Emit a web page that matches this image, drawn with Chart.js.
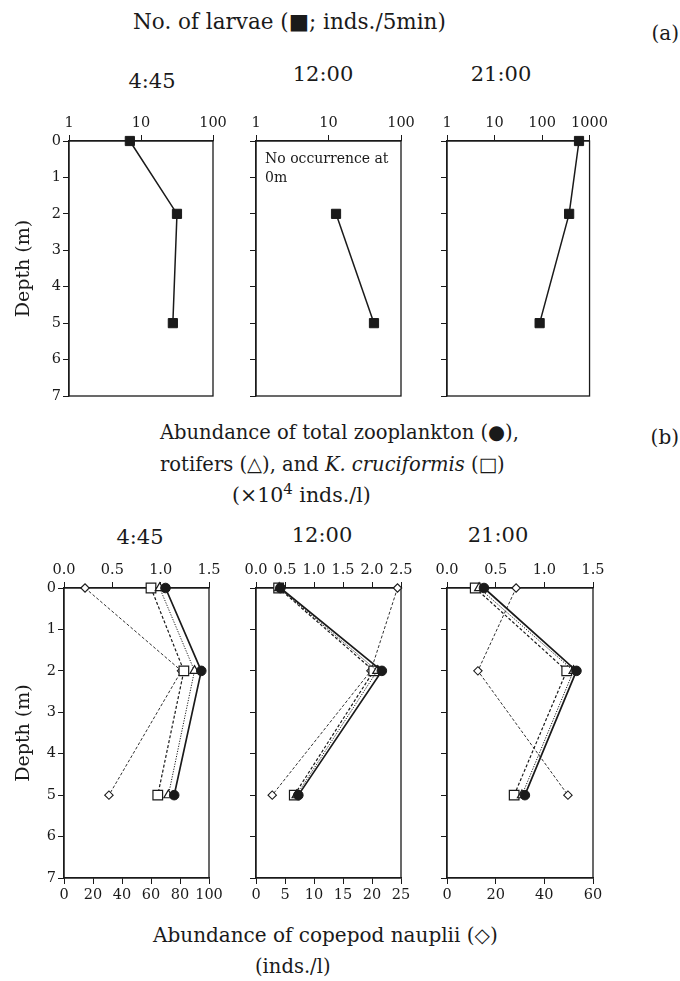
<!DOCTYPE html>
<html><head><meta charset="utf-8">
<script src="https://cdn.jsdelivr.net/npm/chart.js@4.4.1/dist/chart.umd.min.js"></script>
<style>
html,body{margin:0;padding:0;background:#fff;}
body{width:680px;height:981px;position:relative;overflow:hidden;font-family:'DejaVu Serif',serif;color:#1a1a1a;}
.t{position:absolute;white-space:nowrap;line-height:1;transform:translateY(-50%);}
.c{transform:translate(-50%,-50%);}
.pc{position:absolute;}
</style></head><body>
<script>
// ---------- data ----------
const depths = [0, 2, 5];
const depthTicks = [0, 1, 2, 3, 4, 5, 6, 7];
const times = ['4:45', '12:00', '21:00'];

// (a) number of larvae (inds./5min), log axis
const larvaeTicks0445 = [1, 10, 100];
const larvaeTicks1200 = [1, 10, 100];
const larvaeTicks2100 = [1, 10, 100, 1000];
const larvae0445 = [7.0, 31.6, 27.7];
const larvae1200 = [null, 12.7, 42.4];   // no occurrence at 0 m
const larvae2100 = [600, 372, 89];

// (b) abundance (x10^4 inds./l)
const zooTicks0445 = [0, 0.5, 1.0, 1.5];
const zooTicks1200 = [0, 0.5, 1.0, 1.5, 2.0, 2.5];
const zooTicks2100 = [0, 0.5, 1.0, 1.5];
const total0445 = [1.05, 1.42, 1.14];
const rotifers0445 = [0.99, 1.35, 1.08];
const kcruc0445 = [0.90, 1.24, 0.97];
const total1200 = [0.42, 2.17, 0.73];
const rotifers1200 = [0.40, 2.09, 0.70];
const kcruc1200 = [0.39, 2.03, 0.66];
const total2100 = [0.38, 1.33, 0.80];
const rotifers2100 = [0.33, 1.30, 0.77];
const kcruc2100 = [0.29, 1.23, 0.69];

// copepod nauplii (inds./l)
const naupTicks0445 = [0, 20, 40, 60, 80, 100];
const naupTicks1200 = [0, 5, 10, 15, 20, 25];
const naupTicks2100 = [0, 20, 40, 60];
const nauplii0445 = [14.5, 81, 31];
const nauplii1200 = [24.4, 19.8, 2.8];
const nauplii2100 = [28.4, 12.7, 49.7];

// ---------- helpers ----------
Chart.defaults.font.family = "'DejaVu Serif', serif";
Chart.defaults.color = '#1a1a1a';
const INK = '#1a1a1a';
const TICK = 14.5;
function pts(xs) { return depths.map((d, i) => xs[i] == null ? null : { x: xs[i], y: d }).filter(p => p); }

const framePlugin = {
  id: 'frame',
  beforeDatasetsDraw(chart) {
    const { ctx, chartArea: a } = chart;
    ctx.save(); ctx.strokeStyle = INK; ctx.lineWidth = 1.3;
    ctx.strokeRect(a.left, a.top, a.right - a.left, a.bottom - a.top);
    ctx.restore();
  }
};

function tickAxis(pos, type, min, max, ticks, fmt, size) {
  return {
    type, position: pos, min, max,
    afterBuildTicks: s => { s.ticks = ticks.map(v => ({ value: v })); },
    afterFit: s => { s.height = size; },
    ticks: { callback: fmt, font: { size: TICK }, color: INK, padding: 3, maxRotation: 0, autoSkip: false },
    grid: { drawOnChartArea: false, drawTicks: true, tickLength: 6, color: INK, lineWidth: 1 },
    border: { display: true, color: INK, width: 1.3 }
  };
}

function yAxis(showLabels, width) {
  return {
    type: 'linear', position: 'left', reverse: true, min: 0, max: 7,
    afterBuildTicks: s => { s.ticks = depthTicks.map(v => ({ value: v })); },
    afterFit: s => { s.width = width; },
    ticks: { font: { size: TICK }, color: showLabels ? INK : 'rgba(0,0,0,0)', padding: 2 },
    grid: { drawOnChartArea: false, drawTicks: true, tickLength: 6, color: INK, lineWidth: 1 },
    border: { display: true, color: INK, width: 1.3 },
    title: { display: showLabels, text: 'Depth (m)', font: { size: 19 }, color: INK, padding: { top: 4, bottom: 0 } }
  };
}

function makePanel(area, scales, datasets, yW, topH, botH) {
  const padR = 18, padB = botH ? 6 : 12;
  const left = area[0] - yW, top = area[1] - topH;
  const width = area[2] - left + padR, height = area[3] - top + botH + padB;
  const div = document.createElement('div');
  div.className = 'pc';
  div.style.cssText = `left:${left}px;top:${top}px;width:${width}px;height:${height}px`;
  const cv = document.createElement('canvas');
  cv.width = width; cv.height = height;
  div.appendChild(cv); document.body.appendChild(div);
  new Chart(cv, {
    type: 'scatter',
    data: { datasets },
    options: {
      responsive: false, animation: false, devicePixelRatio: 1,
      layout: { padding: { left: 0, top: 0, right: padR, bottom: padB } },
      plugins: { legend: { display: false }, tooltip: { enabled: false } },
      scales
    },
    plugins: [framePlugin]
  });
}

function larvaeSet(vals) {
  return [{ data: pts(vals), showLine: true, clip: false, borderColor: INK, borderWidth: 1.5,
    pointStyle: 'rect', pointRadius: 6.5, pointBackgroundColor: INK, pointBorderColor: INK, pointBorderWidth: 1 }];
}
function zooSets(tot, rot, kc, nau) {
  return [
    { label: 'total zooplankton', data: pts(tot), showLine: true, clip: false, borderColor: INK, borderWidth: 1.7,
      pointStyle: 'circle', pointRadius: 4.8, pointBackgroundColor: INK, pointBorderColor: INK, pointBorderWidth: 1 },
    { label: 'rotifers', data: pts(rot), showLine: true, clip: false, borderColor: INK, borderWidth: 1, borderDash: [1.2, 1.4],
      pointStyle: 'triangle', pointRadius: 5.2, pointBackgroundColor: '#fff', pointBorderColor: INK, pointBorderWidth: 1.2 },
    { label: 'K. cruciformis', data: pts(kc), showLine: true, clip: false, borderColor: INK, borderWidth: 1.2, borderDash: [3, 2],
      pointStyle: 'rect', pointRadius: 6.8, pointBackgroundColor: '#fff', pointBorderColor: INK, pointBorderWidth: 1.2 },
    { label: 'copepod nauplii', data: pts(nau), xAxisID: 'x2', showLine: true, clip: false, borderColor: INK, borderWidth: 0.9, borderDash: [3, 2],
      pointStyle: 'rectRot', pointRadius: 4.2, pointBackgroundColor: '#fff', pointBorderColor: INK, pointBorderWidth: 1.1 }
  ];
}

const fmtInt = v => String(v);
const fmt1 = v => v.toFixed(1);

// ---------- (a) panels ----------
const aAreas = [[69, 141, 213, 396], [256, 141, 401, 396], [447, 141, 593, 396]];
const aTicks = [larvaeTicks0445, larvaeTicks1200, larvaeTicks2100];
const aVals = [larvae0445, larvae1200, larvae2100];
aAreas.forEach((ar, i) => {
  const yW = i === 0 ? 60 : 20;
  const tk = aTicks[i];
  makePanel(ar, {
    x: tickAxis('top', 'logarithmic', tk[0], tk[tk.length - 1], tk, fmtInt, 36),
    y: yAxis(i === 0, yW)
  }, larvaeSet(aVals[i]), yW, 36, 0);
});

// ---------- (b) panels ----------
const bAreas = [[64, 588, 209, 878], [256, 588, 401, 878], [447, 588, 593, 878]];
const bZooTicks = [zooTicks0445, zooTicks1200, zooTicks2100];
const bNauTicks = [naupTicks0445, naupTicks1200, naupTicks2100];
const bSets = [
  zooSets(total0445, rotifers0445, kcruc0445, nauplii0445),
  zooSets(total1200, rotifers1200, kcruc1200, nauplii1200),
  zooSets(total2100, rotifers2100, kcruc2100, nauplii2100)
];
bAreas.forEach((ar, i) => {
  const yW = i === 0 ? 55 : 20;
  const zt = bZooTicks[i], nt = bNauTicks[i];
  makePanel(ar, {
    x: tickAxis('top', 'linear', zt[0], zt[zt.length - 1], zt, fmt1, 36),
    x2: tickAxis('bottom', 'linear', nt[0], nt[nt.length - 1], nt, fmtInt, 34),
    y: yAxis(i === 0, yW)
  }, bSets[i], yW, 36, 34);
});

// ---------- text ----------
function txt(html, x, y, size, mode) {
  const d = document.createElement('div');
  d.className = 't' + (mode === 'c' ? ' c' : '');
  if (mode === 'r') d.style.right = x + 'px'; else d.style.left = x + 'px';
  d.style.top = y + 'px'; d.style.fontSize = size + 'px';
  d.innerHTML = html;
  document.body.appendChild(d);
}
txt('No. of larvae (■; inds./5min)', 133, 22, 21.5);
txt('(a)', 1, 33, 20, 'r');
txt(times[0], 152, 81, 21, 'c');
txt(times[1], 323, 74, 21, 'c');
txt(times[2], 501, 74, 21, 'c');
txt('No occurrence at', 265, 158, 14);
txt('0m', 265, 177, 14);
txt('Abundance of total zooplankton (●),', 160, 433, 19.5);
txt('rotifers (△), and <i>K. cruciformis</i> (□)', 160, 465, 19.5);
txt('(×10<sup style="font-size:15px">4</sup>&nbsp;inds./l)', 232, 494, 20.5);
txt('(b)', 1, 437, 20, 'r');
txt(times[0], 140, 537, 21, 'c');
txt(times[1], 322, 535, 21, 'c');
txt(times[2], 498, 535, 21, 'c');
txt('Abundance of copepod nauplii (◇)', 153, 935, 20);
txt('(inds./l)', 255, 967, 19.5);
</script>
</body></html>
